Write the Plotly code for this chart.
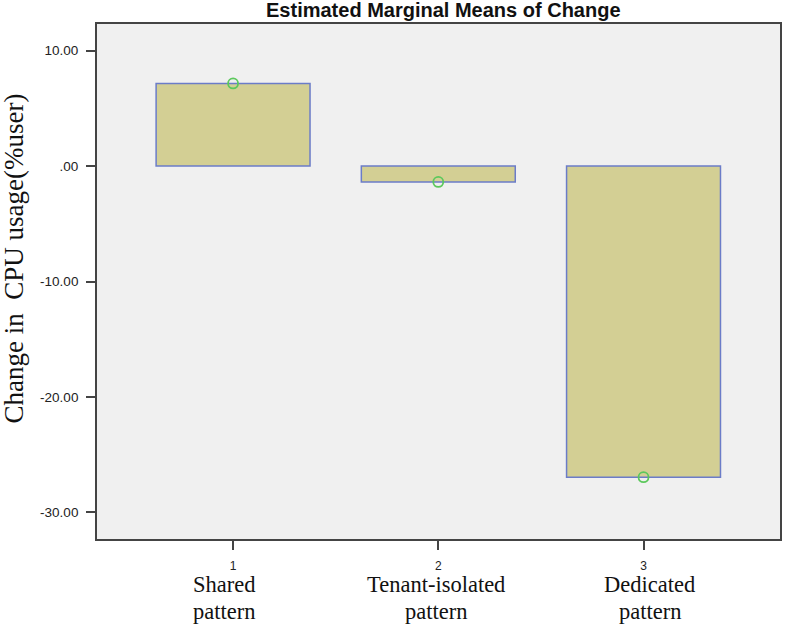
import plotly.graph_objects as go

# Data
category_index = [1, 2, 3]
category_names = [["Shared", "pattern"], ["Tenant-isolated", "pattern"], ["Dedicated", "pattern"]]
means = [7.15, -1.38, -26.95]
ytick_vals = [10, 0, -10, -20, -30]
ytick_text = ["10.00", ".00", "-10.00", "-20.00", "-30.00"]
title_text = "Estimated Marginal Means of Change"
ytitle_text = "Change in  CPU usage(%user)"

fig = go.Figure()
fig.add_trace(go.Bar(
    x=category_index, y=means, base=0, width=0.75,
    marker=dict(color="#d3cf94", line=dict(color="#6b7cc8", width=1.5)),
    hoverinfo="skip", showlegend=False,
))
fig.add_trace(go.Scatter(
    x=category_index, y=means, mode="markers",
    marker=dict(symbol="circle-open", size=10, color="#5cc85c", line=dict(width=1.8)),
    showlegend=False,
))

label_shift = [-9, -2, 6]
for xi, names, sh in zip(category_index, category_names, label_shift):
    for j, (txt, yp) in enumerate(zip(names, [-0.0874, -0.140])):
        fig.add_annotation(
            x=xi, xref="x", y=yp, yref="paper", text=txt, showarrow=False,
            xanchor="center", yanchor="middle", xshift=sh,
            font=dict(family="Liberation Serif", size=22.5, color="#111"),
        )

fig.add_annotation(
    x=-0.122, xref="paper", y=0.544, yref="paper", text=ytitle_text,
    showarrow=False, textangle=-90, xanchor="center", yanchor="middle",
    font=dict(family="Liberation Serif", size=27, color="#111"),
)

fig.update_layout(
    width=785, height=626,
    margin=dict(l=97, r=3, t=24, b=87),
    paper_bgcolor="white", plot_bgcolor="#f0f0f0",
    title=dict(text="<b>" + title_text + "</b>", x=0.507, xref="paper",
               y=1 - 10 / 626, yref="container", xanchor="center", yanchor="middle",
               font=dict(family="Liberation Sans", size=20, color="#111")),
    xaxis=dict(range=[0.337, 3.665], tickvals=category_index,
               ticktext=[str(c) for c in category_index],
               ticks="outside", ticklen=9, tickcolor="#444", tickwidth=1.5,
               ticklabelstandoff=6,
               showline=True, linecolor="#444", linewidth=1.8, mirror=True,
               showgrid=False, zeroline=False,
               tickfont=dict(family="Liberation Sans", size=12, color="#222")),
    yaxis=dict(range=[-32.3, 12.3], tickvals=ytick_vals, ticktext=ytick_text,
               ticks="outside", ticklen=9, tickcolor="#444", tickwidth=1.5,
               ticklabelstandoff=5,
               showline=True, linecolor="#444", linewidth=1.8, mirror=True,
               showgrid=False, zeroline=False,
               tickfont=dict(family="Liberation Sans", size=13.5, color="#222")),
)

fig.write_html(
    "out.html",
    config={"displayModeBar": False},
    post_script="document.body.style.margin='0';document.body.style.overflow='hidden';",
)
